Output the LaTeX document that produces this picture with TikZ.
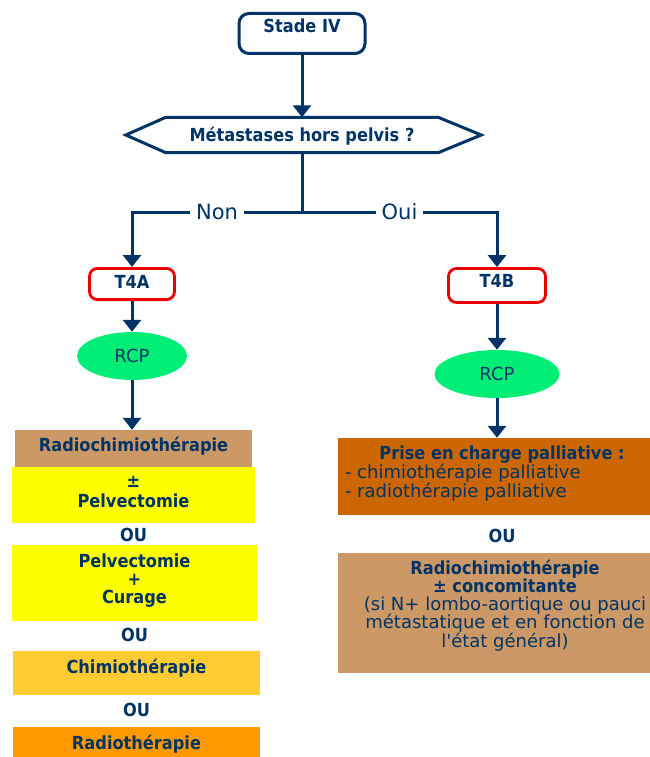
\documentclass[tikz,border=0pt]{standalone}
\usepackage{fontspec}
\setmainfont{DejaVu Sans}
\newfontfamily\flowfont{DejaVu Sans}[FakeStretch=0.9]
\usetikzlibrary{shapes.geometric,arrows.meta}

\definecolor{navy}{RGB}{0,51,102}
\definecolor{boxred}{RGB}{235,0,0}
\definecolor{boxgreen}{RGB}{0,238,118}
\definecolor{boxtan}{RGB}{204,153,102}
\definecolor{boxyellow}{RGB}{255,255,0}
\definecolor{boxgold}{RGB}{255,204,51}
\definecolor{boxorange}{RGB}{255,153,0}
\definecolor{boxrust}{RGB}{204,102,0}

\newcommand\boldtxt{\flowfont\bfseries\fontsize{18}{19}\selectfont}
\newcommand\boldtxtwide{\flowfont\bfseries\fontsize{18}{20}\selectfont}
\newcommand\boldtxttight{\flowfont\bfseries\fontsize{18}{18}\selectfont}
\newcommand\plaintxt{\fontsize{18}{19}\selectfont}
\newcommand\plaintxttight{\fontsize{18}{18.25}\selectfont}

\tikzset{
  flow/.style={line width=3pt,draw=navy},
  arr/.style={flow,-{Triangle[width=18pt,length=12pt]}},
  startbox/.style={rectangle,rounded corners=10pt,draw=navy,line width=3pt,fill=white,
    text=navy,font=\boldtxt,inner sep=0pt},
  question/.style={rectangle,text=navy,font=\boldtxt,inner sep=0pt,
    minimum width=272pt,minimum height=35pt,text height=13pt,text depth=0pt},
  stagebox/.style={rectangle,rounded corners=8pt,draw=boxred,line width=2.8pt,
    text=navy,font=\boldtxt,inner sep=0pt},
  rcp/.style={ellipse,fill=boxgreen,text=navy,font=\plaintxt,inner sep=0pt,
    minimum height=48pt},
  treat/.style={rectangle,text=navy,font=\boldtxt,inner sep=0pt,align=center},
  ortext/.style={text=navy,font=\boldtxt,inner sep=0pt},
  choice/.style={fill=white,text=navy,font=\fontsize{21}{21}\selectfont,
    inner xsep=6pt,inner ysep=1pt}
}

\begin{document}
\begin{tikzpicture}[x=1pt,y=-1pt]
\useasboundingbox (0,0) rectangle (650,757);

% stage node
\node[startbox,minimum width=126pt,text height=19.5pt,text depth=20.5pt] (stade) at (302,33.5) {Stade IV};

% question node
\node[question] (meta) at (302,135) {Métastases hors pelvis ?};
\draw[flow] (meta.north west) -- (meta.north east) -- ([xshift=43pt]meta.east)
  -- (meta.south east) -- (meta.south west) -- ([xshift=-40pt]meta.west) -- cycle;

\draw[arr] (stade) -- (meta);

% T4 nodes
\node[stagebox,minimum width=85pt,text height=19.6pt,text depth=11.6pt] (t4a) at (132,284) {T4A};
\node[stagebox,minimum width=97pt,text height=19pt,text depth=15pt] (t4b) at (497,285.5) {T4B};

% branch
\coordinate (split) at (302,212);
\draw[flow] (meta) -- (split);
\draw[arr] (split) -| node[choice,pos=0.25] {Non} (t4a);
\draw[arr] (split) -| node[choice,pos=0.25] {Oui} (t4b);

% RCP nodes
\node[rcp,minimum width=110pt] (rcpa) at (132,356) {RCP};
\node[rcp,minimum width=125pt] (rcpb) at (497,374) {RCP};

\draw[arr] (t4a) -- (rcpa);
\draw[arr] (t4b) -- (rcpb);

% left treatments
\node[treat,fill=boxtan,minimum width=237pt,text height=21pt,text depth=16pt] (radioa) at (133.5,448.5) {Radiochimiothérapie};
\node[treat,fill=boxyellow,minimum width=243pt,font=\boldtxtwide] (pelva) at (133.5,495)
  {\rule{0pt}{20pt}±\\Pelvectomie\rule[-16pt]{0pt}{16pt}};
\node[ortext] (oua) at (133.5,534.5) {OU};
\node[treat,fill=boxyellow,minimum width=245pt,font=\boldtxttight] (pelvb) at (134.5,583)
  {\rule{0pt}{22pt}Pelvectomie\\+\\Curage\rule[-18pt]{0pt}{18pt}};
\node[ortext] (oub) at (134.5,635) {OU};
\node[treat,fill=boxgold,minimum width=247pt,text height=22pt,text depth=22pt] (chimio) at (136.5,673) {Chimiothérapie};
\node[ortext] (ouc) at (136.5,710) {OU};
\node[treat,fill=boxorange,minimum width=247pt,text height=22pt,text depth=14pt] (radiob) at (136.5,745) {Radiothérapie};

\draw[arr] (rcpa) -- (rcpa |- radioa.north);

% right treatments
\node[treat,fill=boxrust,minimum width=328pt,inner xsep=7pt,align=left,font=\plaintxt] (pallia) at (502,476.5)
  {\makebox[314pt]{\boldtxt\rule{0pt}{21pt}Prise en charge palliative :}\\- chimiothérapie palliative\\- radiothérapie palliative\rule[-18pt]{0pt}{18pt}};
\node[ortext] (oud) at (502,535.5) {OU};
\node[treat,fill=boxtan,minimum width=334pt,font=\plaintxttight] (radioc) at (505,613)
  {{\boldtxt\rule{0pt}{21pt}Radiochimiothérapie}\\{\boldtxt ± concomitante}\\(si N+ lombo-aortique ou pauci\\métastatique et en fonction de\\l\textquotesingle état général)\rule[-26pt]{0pt}{26pt}};

\draw[arr] (rcpb) -- (rcpb |- pallia.north);

\end{tikzpicture}
\end{document}
